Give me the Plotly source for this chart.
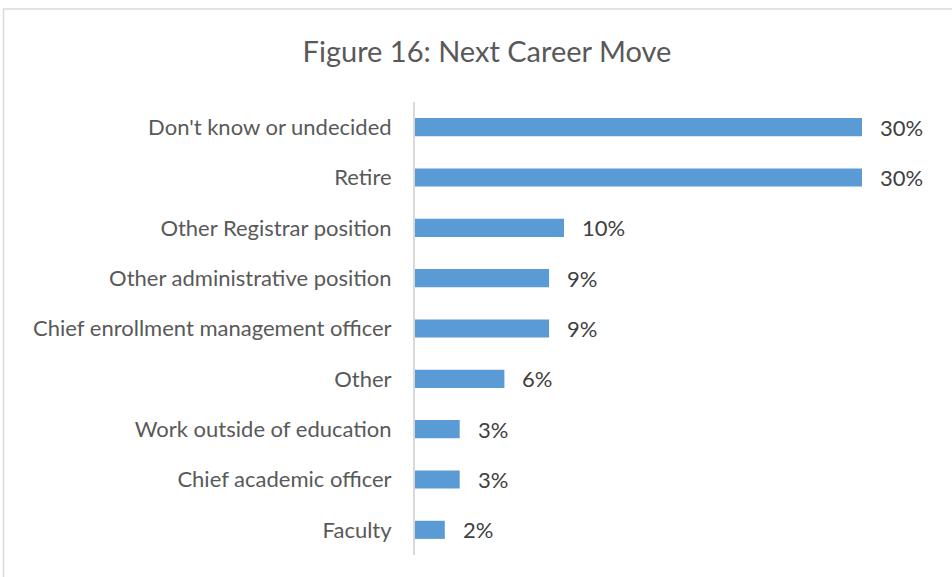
import plotly.graph_objects as go

categories = [
    "Don't know or undecided",
    "Retire",
    "Other Registrar position",
    "Other administrative position",
    "Chief enrollment management officer",
    "Other",
    "Work outside of education",
    "Chief academic officer",
    "Faculty",
]
values = [30, 30, 10, 9, 9, 6, 3, 3, 2]
value_labels = ["30%", "30%", "10%", "9%", "9%", "6%", "3%", "3%", "2%"]

W, H = 952, 577
left, right, top, bottom = 415, 15, 102, 22
plot_w = W - left - right
plot_h = H - top - bottom
x_max = plot_w / 14.9

font_name = "Lato, Open Sans, sans-serif"
text_color = "#595959"

fig = go.Figure(
    go.Bar(
        x=values,
        y=categories,
        orientation="h",
        marker=dict(color="#5B9BD5", line=dict(width=0)),
        width=0.36,
        hoverinfo="skip",
    )
)

# data labels to the right of each bar
for v, cat, lab in zip(values, categories, value_labels):
    fig.add_annotation(
        x=v, y=cat, text=lab, showarrow=False,
        xanchor="left", xshift=16,
        font=dict(size=22, color="#404040", family=font_name),
    )

# chart frame
fig.add_shape(
    type="rect", xref="paper", yref="paper",
    x0=(3.5 - left) / plot_w, x1=(W + 10 - left) / plot_w,
    y0=-(H + 10 - (H - bottom)) / plot_h, y1=1 + (top - 9) / plot_h,
    line=dict(color="#d9d9d9", width=1.5),
    layer="above",
)

fig.update_layout(
    width=W,
    height=H,
    margin=dict(l=left, r=right, t=top, b=bottom),
    paper_bgcolor="white",
    plot_bgcolor="white",
    showlegend=False,
    title=dict(
        text="Figure 16: Next Career Move",
        x=487 / W, xanchor="center",
        y=1 - 52 / H, yanchor="middle",
        font=dict(size=29, color=text_color, family=font_name),
    ),
    xaxis=dict(
        range=[0, x_max],
        showgrid=False,
        zeroline=False,
        showticklabels=False,
        showline=False,
        fixedrange=True,
    ),
    yaxis=dict(
        autorange="reversed",
        showgrid=False,
        zeroline=False,
        showline=True,
        linecolor="#d9d9d9",
        linewidth=2,
        ticks="",
        ticklabelstandoff=17,
        tickfont=dict(size=22, color=text_color, family=font_name),
        fixedrange=True,
    ),
)

# drop the default page margin so the figure sits at the window's corner
fig.write_html(
    "out.html",
    config={"displayModeBar": False},
    post_script="document.body.style.margin='0';",
)
